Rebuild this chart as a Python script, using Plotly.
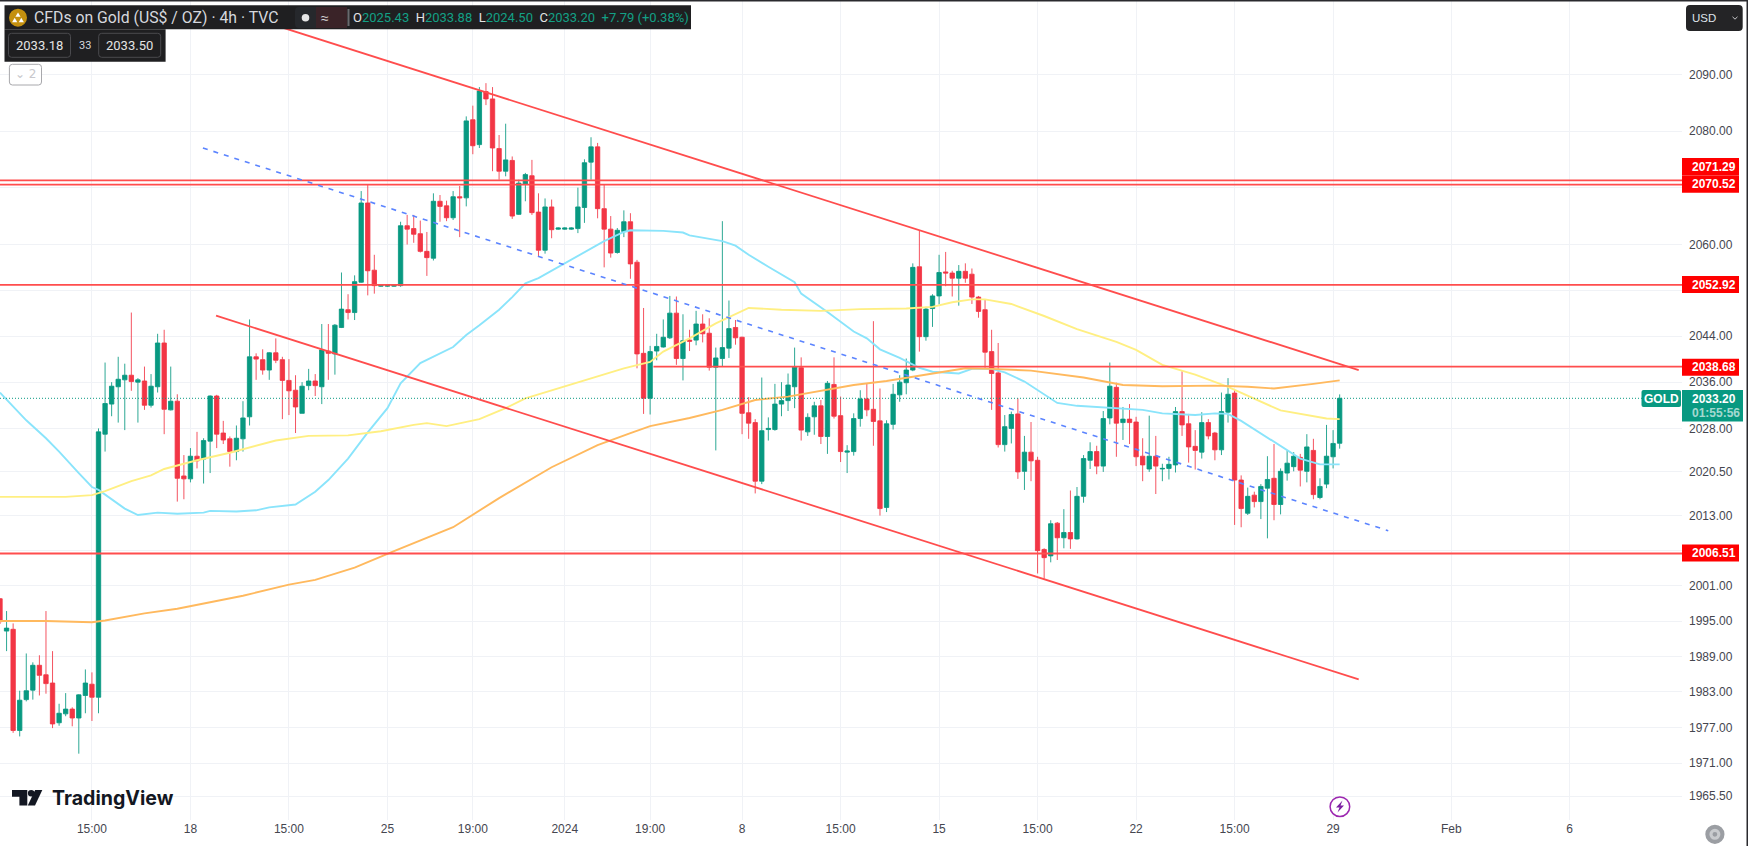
import math
import plotly.graph_objects as go

W, H = 1748, 846
PLOT_W, PLOT_H = 1682, 820

opens = [1998.8,1993.3,1993.6,1976.5,1981.7,1983.3,1987.5,1985.9,1984.5,1977.8,
1979.3,1980.1,1978.6,1982.4,1984.3,1982.1,2027.0,2032.2,2035.2,2036.4,
2037.2,2036.0,2036.2,2032.0,2035.2,2042.8,2031.2,2032.7,2019.8,2019.3,
2023.2,2022.7,2025.8,2033.6,2027.2,2026.2,2024.0,2026.2,2030.0,2040.4,
2039.9,2038.1,2041.1,2039.9,2036.3,2034.6,2030.6,2035.4,2036.2,2035.2,
2041.4,2040.9,2045.5,2048.6,2048.1,2053.4,2067.3,2055.5,2052.7,2052.7,
2052.7,2052.8,2063.3,2062.8,2061.9,2058.8,2057.6,2067.6,2066.8,2064.7,
2068.4,2068.2,2082.0,2077.6,2087.0,2085.7,2076.9,2072.9,2074.8,2065.3,
2070.6,2072.1,2065.7,2059.0,2066.6,2062.7,2062.7,2062.7,2062.8,2066.5,
2074.5,2077.2,2066.3,2062.7,2058.6,2062.3,2064.0,2056.9,2041.0,2033.2,
2041.4,2042.1,2043.7,2048.0,2040.1,2043.3,2043.3,2046.1,2044.5,2038.6,
2040.1,2041.9,2045.5,2043.8,2030.7,2029.0,2018.9,2027.8,2027.8,2032.2,
2032.8,2035.2,2038.5,2027.4,2030.0,2031.9,2026.6,2035.6,2030.2,2023.9,
2024.0,2029.7,2033.1,2031.3,2029.3,2014.4,2028.7,2033.8,2035.9,2038.1,
2056.1,2043.9,2048.8,2051.0,2055.2,2055.0,2054.1,2055.3,2054.8,2050.8,
2048.6,2041.3,2037.6,2025.2,2028.0,2030.5,2020.6,2023.9,2022.5,2007.2,
2006.1,2011.7,2009.2,2010.1,2009.0,2016.3,2022.5,2024.0,2021.5,2029.8,
2035.1,2029.0,2029.6,2029.1,2023.2,2021.0,2023.2,2021.0,2021.1,2021.7,
2030.9,2028.8,2024.9,2023.9,2029.0,2027.2,2024.3,2030.8,2034.1,2019.1,
2013.4,2016.5,2015.4,2017.7,2019.4,2014.9,2020.3,2021.4,2023.0,2020.6,
2024.2,2016.1,2018.4,2023.1,2025.43]

highs = [1998.9,1996.7,1994.6,1983.2,1989.5,1988.0,1989.2,1996.7,1989.9,1981.0,
1982.8,1980.4,1982.6,1986.8,1986.3,2028.0,2039.4,2036.0,2040.4,2039.2,
2048.1,2036.7,2038.7,2037.4,2044.4,2045.1,2038.7,2033.9,2023.4,2024.6,
2027.4,2026.3,2033.7,2033.8,2029.3,2026.6,2028.5,2032.7,2046.9,2041.0,
2041.7,2041.2,2043.6,2040.4,2040.0,2037.2,2036.0,2038.3,2037.4,2046.1,
2046.1,2046.1,2055.1,2051.3,2054.6,2069.4,2070.5,2058.2,2053.0,2053.0,
2053.0,2064.0,2065.2,2065.2,2064.2,2062.2,2069.0,2068.7,2067.7,2069.4,
2070.3,2082.6,2084.5,2087.8,2088.5,2087.8,2079.3,2081.3,2075.5,2071.4,
2072.6,2074.9,2069.0,2068.1,2067.9,2063.0,2063.0,2063.0,2070.0,2075.0,
2078.9,2077.9,2070.6,2065.0,2062.9,2066.0,2065.5,2057.3,2048.9,2042.3,
2044.4,2046.9,2051.0,2050.9,2047.8,2045.1,2048.4,2047.8,2047.1,2042.0,
2064.1,2050.2,2046.8,2043.9,2033.4,2029.6,2036.8,2029.9,2035.7,2036.0,
2037.5,2042.0,2040.3,2030.6,2032.6,2032.9,2036.2,2040.3,2033.5,2025.1,
2030.6,2034.6,2035.8,2046.6,2034.9,2029.4,2035.7,2037.2,2040.1,2056.7,
2062.4,2049.1,2051.3,2058.2,2058.7,2055.4,2056.4,2056.7,2055.8,2051.0,
2050.3,2045.1,2042.8,2030.3,2030.9,2033.2,2026.7,2029.1,2023.1,2007.4,
2012.2,2011.9,2014.1,2017.3,2017.9,2023.4,2025.6,2025.0,2031.0,2039.4,
2035.9,2031.7,2032.2,2030.0,2026.3,2030.2,2026.7,2021.9,2023.1,2031.7,
2037.9,2030.5,2027.7,2030.8,2029.6,2027.4,2034.2,2036.7,2034.8,2019.9,
2017.8,2017.1,2018.4,2023.2,2025.3,2021.1,2024.2,2023.9,2023.6,2027.0,
2026.2,2019.4,2028.6,2027.7,2033.88]

lows = [1994.5,1989.9,1976.1,1975.5,1981.4,1981.7,1982.4,1982.7,1976.9,1977.3,
1978.9,1977.2,1972.6,1979.4,1978.1,1979.4,2024.0,2030.1,2029.0,2027.7,
2034.5,2029.0,2031.2,2031.6,2034.2,2027.0,2031.1,2015.4,2015.8,2018.7,
2021.1,2018.5,2020.3,2024.6,2025.3,2021.4,2022.5,2024.0,2028.5,2036.4,
2037.3,2036.4,2039.3,2029.6,2030.3,2027.2,2030.6,2034.6,2033.6,2032.2,
2036.4,2037.3,2045.4,2046.9,2046.8,2053.3,2051.1,2051.4,2052.6,2052.6,
2052.6,2052.6,2060.0,2060.3,2058.6,2054.5,2057.2,2064.0,2064.1,2064.3,
2061.3,2066.7,2075.9,2077.0,2084.6,2072.9,2071.4,2072.0,2064.5,2065.2,
2067.6,2065.2,2057.9,2058.4,2061.1,2062.6,2062.6,2062.6,2062.0,2063.8,
2071.4,2064.6,2056.0,2057.7,2058.4,2061.3,2054.0,2038.4,2030.5,2030.4,
2039.8,2042.0,2043.5,2039.0,2036.3,2041.4,2042.4,2042.9,2038.0,2024.2,
2038.7,2040.2,2042.5,2027.0,2026.2,2016.8,2018.4,2025.9,2027.6,2030.1,
2031.0,2031.5,2025.9,2026.7,2026.9,2025.3,2023.6,2029.7,2022.2,2020.3,
2023.3,2028.3,2030.1,2025.0,2013.0,2013.6,2027.8,2032.6,2033.9,2037.9,
2041.3,2043.2,2045.6,2049.5,2052.7,2050.9,2049.3,2053.3,2049.6,2047.2,
2038.5,2031.2,2024.7,2024.0,2025.4,2019.3,2017.4,2018.9,2003.1,2002.2,
2005.0,2005.4,2007.4,2007.3,2008.9,2015.2,2021.0,2020.1,2020.5,2028.7,
2023.1,2026.0,2025.3,2021.5,2018.9,2020.5,2016.7,2018.9,2019.2,2020.4,
2026.7,2022.1,2020.9,2022.8,2026.1,2022.5,2023.4,2029.0,2011.4,2011.0,
2013.1,2014.4,2012.4,2009.1,2012.2,2013.2,2019.0,2020.6,2018.0,2018.7,
2015.8,2015.8,2017.7,2021.1,2024.50]

closes = [1994.9,1993.8,1976.5,1981.6,1983.2,1987.5,1985.8,1984.4,1977.6,1979.4,
1980.1,1978.6,1982.5,1984.5,1982.1,2027.4,2032.3,2035.3,2036.5,2037.2,
2036.1,2036.4,2032.0,2035.3,2042.8,2031.3,2032.7,2019.4,2019.3,2023.2,
2022.4,2025.9,2033.6,2027.0,2026.0,2024.0,2026.3,2029.8,2040.4,2040.0,
2038.1,2041.1,2039.8,2036.3,2034.5,2031.7,2035.3,2036.2,2035.4,2041.6,
2041.0,2045.9,2048.7,2048.1,2053.5,2067.3,2055.4,2052.8,2052.9,2052.9,
2052.9,2063.3,2062.7,2061.8,2058.8,2057.7,2067.6,2066.7,2064.7,2068.4,
2068.2,2081.8,2077.4,2087.1,2085.7,2077.0,2072.9,2074.9,2065.0,2070.8,
2072.3,2065.6,2059.0,2066.6,2062.6,2062.9,2062.9,2062.9,2066.6,2074.4,
2077.2,2066.3,2062.7,2058.5,2062.5,2064.0,2056.6,2040.9,2033.2,2041.3,
2042.2,2043.8,2048.0,2040.1,2043.2,2043.1,2046.1,2044.4,2038.6,2040.2,
2042.0,2045.3,2043.7,2030.6,2028.9,2018.9,2027.6,2028.0,2032.2,2032.8,
2035.5,2038.6,2027.7,2029.9,2031.9,2026.6,2035.8,2030.1,2024.0,2024.1,
2029.7,2033.1,2031.2,2029.2,2014.2,2028.8,2033.9,2036.0,2038.1,2056.0,
2043.9,2048.7,2051.0,2055.1,2055.0,2054.1,2055.3,2054.1,2050.8,2048.3,
2041.2,2037.5,2025.2,2028.3,2030.4,2020.5,2023.9,2022.4,2007.0,2005.8,
2011.6,2009.2,2010.1,2009.0,2016.3,2022.8,2024.0,2021.5,2029.7,2035.3,
2028.9,2029.6,2029.0,2023.1,2021.7,2023.2,2021.5,2021.1,2021.8,2030.9,
2028.6,2024.8,2024.2,2029.0,2026.7,2024.3,2030.9,2033.9,2019.1,2014.2,
2016.3,2015.4,2018.0,2019.2,2014.9,2020.6,2022.0,2023.2,2020.8,2024.8,
2016.6,2018.0,2023.2,2025.4,2033.20]

cyan_bar = [0,4,7,9,12,14,15,19,21,24,27,31,32,36,39,41,45,48,50,53,56,59,61,64,69,71,73,76,78,80,82,86,90,92,95,96,101,104,105,110,112,114,117,121,122,126,130,132,134,137,140,142,146,148,151,153,156,159,161,164,169,174,177,182,185,187,189,192,196,198,201,203,204]
cyan_val = [2034.2,2029.4,2026.3,2024.0,2020.3,2017.9,2017.4,2014.2,2013.1,2013.5,2013.3,2013.5,2013.8,2013.7,2013.9,2014.4,2014.9,2017.1,2019.1,2022.8,2027.3,2031.5,2035.8,2039.3,2042.1,2044.2,2045.9,2048.6,2050.8,2053.2,2054.1,2056.7,2059.4,2060.6,2062.2,2062.5,2062.4,2062.1,2061.6,2060.6,2059.8,2058.2,2056.1,2053.4,2051.4,2048.2,2044.8,2043.6,2041.7,2040.2,2038.5,2037.8,2037.5,2038.3,2038.3,2037.7,2036.1,2033.8,2032.4,2031.9,2031.6,2031.2,2030.6,2030.3,2030.6,2030.5,2029.3,2027.1,2024.3,2022.8,2021.8,2021.8,2021.8]

yellow_bar = [0,5,10,14,16,20,23,25,30,35,42,47,53,58,63,65,68,73,77,80,84,89,95,99,101,105,109,114,119,125,131,138,142,145,148,150,154,159,164,170,173,177,182,187,191,195,202,204]
yellow_val = [2016.2,2016.2,2016.2,2016.5,2017.2,2018.9,2019.9,2021.0,2022.5,2023.8,2025.9,2026.7,2026.8,2027.5,2028.6,2028.9,2028.4,2029.6,2031.5,2033.2,2034.6,2036.4,2038.4,2039.5,2041.3,2043.6,2046.2,2048.9,2048.6,2048.4,2048.7,2048.8,2049.1,2049.9,2050.4,2050.4,2049.6,2047.5,2045.2,2043.0,2041.6,2039.0,2037.3,2035.2,2033.2,2031.1,2029.7,2029.6]

orange_bar = [0,7,14,16,22,27,37,44,48,54,60,69,76,84,91,94,96,99,105,110,115,120,125,130,135,140,147,151,157,165,171,177,185,190,194,200,204]
orange_val = [1995.0,1995.0,1994.8,1995.1,1996.3,1997.1,1999.3,2001.2,2002.0,2004.1,2006.9,2011.0,2016.0,2021.3,2025.1,2026.4,2027.2,2028.4,2029.8,2031.2,2032.9,2033.5,2034.5,2035.5,2036.2,2037.1,2038.4,2038.3,2038.0,2036.8,2035.5,2035.3,2035.4,2035.2,2034.9,2035.7,2036.3]

level_prices = [2071.29, 2070.52, 2052.92, 2006.51]
pivot_price = 2038.68
pivot_start_bar = 99.5
last_price = 2033.20

upper_bars, upper_prices = [35.0, 206.9], [2101.4, 2038.1]
lower_bars, lower_prices = [32.9, 206.9], [2047.56, 1985.13]
mid_bars, mid_prices = [30.9, 211.4], [2077.0, 2010.4]

price_ticks = [2090,2080,2070,2060,2052,2044,2036,2028,2020.5,2013,2007,2001,1995,1989,1983,1977,1971,1965.5]
hidden_by_tags = [2070, 2052, 2007]
time_tick_bars = [14,29,44,59,72,86,99,113,128,143,158,173,188,203,221,239]
time_tick_text = ["15:00","18","15:00","25","19:00","2024","19:00","8","15:00","15","15:00","22","15:00","29","Feb","6"]

assert len(opens) == len(highs) == len(lows) == len(closes) == 205

GREEN, RED = "#089981", "#f23645"
LINE_RED = "#ff4d4d"
TAG_RED = "#ff0000"
DARK = "#1f1f21"
FONT = "Liberation Sans"
TXT = "#45464f"

X_MAX = 1682 / 6.567
Y_RANGE = [math.log10(1961.49), math.log10(2103.34)]
bars = list(range(len(opens)))


def px(x):
    return x / PLOT_W


def py(y):
    return 1 - y / PLOT_H


def rrect(x0, y0, x1, y1, r, fill, line=None, lw=1):
    d = (f"M{px(x0+r)},{py(y0)} L{px(x1-r)},{py(y0)} Q{px(x1)},{py(y0)} {px(x1)},{py(y0+r)} "
         f"L{px(x1)},{py(y1-r)} Q{px(x1)},{py(y1)} {px(x1-r)},{py(y1)} L{px(x0+r)},{py(y1)} "
         f"Q{px(x0)},{py(y1)} {px(x0)},{py(y1-r)} L{px(x0)},{py(y0+r)} Q{px(x0)},{py(y0)} {px(x0+r)},{py(y0)} Z")
    return dict(type="path", xref="paper", yref="paper", path=d, fillcolor=fill,
                line=dict(color=line or "rgba(0,0,0,0)", width=lw if line else 0), layer="above")


def rect(x0, y0, x1, y1, fill):
    return dict(type="rect", xref="paper", yref="paper", x0=px(x0), x1=px(x1), y0=py(y0), y1=py(y1),
                fillcolor=fill, line=dict(width=0), layer="above")


def poly(points, fill):
    d = "M" + " L".join(f"{px(a)},{py(b)}" for a, b in points) + " Z"
    return dict(type="path", xref="paper", yref="paper", path=d, fillcolor=fill, line=dict(width=0), layer="above")


def circle(cx, cy, r, fill, line=None, lw=0):
    return dict(type="circle", xref="paper", yref="paper", x0=px(cx-r), x1=px(cx+r), y0=py(cy-r), y1=py(cy+r),
                fillcolor=fill, line=dict(color=line or "rgba(0,0,0,0)", width=lw), layer="above")


def text(x, y, s, size=12, color="#ffffff", anchor="left", family=FONT):
    return dict(xref="paper", yref="paper", x=px(x), y=py(y), text=s, showarrow=False, xanchor=anchor,
                yanchor="middle", font=dict(size=size, color=color, family=family), align=anchor)


fig = go.Figure()

for bx, val, col in [(cyan_bar, cyan_val, "#8ae4fb"), (yellow_bar, yellow_val, "#ffef82"), (orange_bar, orange_val, "#ffb95e")]:
    fig.add_trace(go.Scatter(x=bx, y=val, mode="lines", line=dict(color=col, width=1.9), hoverinfo="skip", showlegend=False))

fig.add_trace(go.Scatter(x=[0, X_MAX], y=[last_price, last_price], mode="lines",
                         line=dict(color="#089981", width=1, dash="1px 2px"), hoverinfo="skip", showlegend=False))

fig.add_trace(go.Candlestick(
    x=bars, open=opens, high=highs, low=lows, close=closes, whiskerwidth=0, showlegend=False, hoverinfo="skip",
    increasing=dict(line=dict(color="rgba(8,153,129,0.85)", width=1), fillcolor=GREEN),
    decreasing=dict(line=dict(color="rgba(242,54,69,0.85)", width=1), fillcolor=RED)))

for p in level_prices:
    fig.add_trace(go.Scatter(x=[0, X_MAX], y=[p, p], mode="lines", line=dict(color=LINE_RED, width=1.8),
                             hoverinfo="skip", showlegend=False))
fig.add_trace(go.Scatter(x=[pivot_start_bar, X_MAX], y=[pivot_price, pivot_price], mode="lines",
                         line=dict(color=LINE_RED, width=1.8), hoverinfo="skip", showlegend=False))
for bx, pr in [(upper_bars, upper_prices), (lower_bars, lower_prices)]:
    fig.add_trace(go.Scatter(x=bx, y=pr, mode="lines", line=dict(color=LINE_RED, width=1.8), hoverinfo="skip", showlegend=False))
fig.add_trace(go.Scatter(x=mid_bars, y=mid_prices, mode="lines", line=dict(color="#5b84ff", width=1.6, dash="5px 6px"),
                         hoverinfo="skip", showlegend=False))

shapes, notes = [], []

# frame edges
shapes.append(rect(0, 0, W, 1.5, "#2a2a2e"))
shapes.append(rect(W-1.5, 0, W, H, "#2a2a2e"))

# header
shapes.append(rect(4.5, 5.3, 691, 29.3, DARK))
shapes.append(rect(4.5, 29.3, 165.6, 61.7, DARK))
shapes.append(rrect(8.5, 33.3, 70.5, 57.3, 3, "rgba(0,0,0,0)", "#4a4a4e", 1))
shapes.append(rrect(98.7, 33.3, 160.7, 57.3, 3, "rgba(0,0,0,0)", "#4a4a4e", 1))
shapes.append(circle(18, 17.7, 9, "#c4900f"))
shapes.append(poly([(18, 12.5), (20.6, 16.8), (15.4, 16.8)], "#ffffff"))
shapes.append(poly([(14.7, 17.8), (17.3, 22.2), (12.1, 22.2)], "#ffffff"))
shapes.append(poly([(21.3, 17.8), (23.9, 22.2), (18.7, 22.2)], "#ffffff"))
shapes.append(rrect(295, 7, 347, 28, 4, "#26282c"))
shapes.append(rect(316, 7, 347, 28, "#3a2328"))
shapes.append(circle(305.5, 17.7, 3.8, "#e6e6e6"))
shapes.append(rect(347.5, 9, 349.5, 26, "#6a6a6e"))
notes.append(text(32, 17.7, "CFDs on Gold (US$ / OZ) · 4h · TVC", 15.8, "#d6d8de", family="Roboto"))
notes.append(text(324.5, 17.5, "≈", 14, "#d8d8d8", "center"))
g = "#13a085"
ohlc = (f"<span style='color:#e4e4e4'>O</span><span style='color:{g}'>2025.43</span>  "
        f"<span style='color:#e4e4e4'>H</span><span style='color:{g}'>2033.88</span>  "
        f"<span style='color:#e4e4e4'>L</span><span style='color:{g}'>2024.50</span>  "
        f"<span style='color:#e4e4e4'>C</span><span style='color:{g}'>2033.20</span>  "
        f"<span style='color:{g}'>+7.79 (+0.38%)</span>")
notes.append(text(351, 17.7, ohlc, 13, g, family="Roboto"))
notes.append(text(39.5, 45.5, "2033.18", 13, "#e4e4e4", "center", "Roboto"))
notes.append(text(85, 45.5, "33", 11, "#d6d8de", "center", "Roboto"))
notes.append(text(129.7, 45.5, "2033.50", 13, "#e4e4e4", "center", "Roboto"))

shapes.append(rrect(9.4, 64.3, 41.5, 85, 3, "#ffffff", "#a8a8ac", 1))
notes.append(text(25.5, 74.5, "⌄ 2", 12, "#c8c8cc", "center", "DejaVu Sans"))

# USD button
shapes.append(rrect(1686, 5, 1742.7, 31, 4, "#242426"))
notes.append(text(1690, 18, "USD", 11.5, "#dfe3ea"))
shapes.append(dict(type="path", xref="paper", yref="paper",
                   path=f"M{px(1732.5)},{py(16.8)} L{px(1735)},{py(19.2)} L{px(1737.5)},{py(16.8)}",
                   line=dict(color="#c8c8cc", width=1), layer="above"))

# price tags
for top, bot, lab in [(158, 175.5, "2071.29"), (175.5, 192.7, "2070.52"), (276, 293, "2052.92"),
                      (358.7, 375.7, "2038.68"), (544.5, 561.5, "2006.51")]:
    shapes.append(rect(1682, top, 1739, bot, TAG_RED))
    notes.append(text(1690, (top + bot) / 2, f"<b>{lab}</b>", 12, "#ffffff"))
shapes.append(rrect(1641.5, 390, 1681, 407, 2, GREEN))
notes.append(text(1661, 398.8, "<b>GOLD</b>", 12, "#ffffff", "center"))
shapes.append(rect(1682, 390, 1743, 421.5, GREEN))
notes.append(text(1690, 399, "<b>2033.20</b>", 12, "#ffffff"))
notes.append(text(1690, 413, "<b>01:55:56</b>", 12, "rgba(255,255,255,0.65)"))

# TradingView logo
shapes.append(poly([(12, 790), (27.3, 790), (27.3, 805.5), (19.4, 805.5), (19.4, 796.8), (12, 796.8)], "#131722"))
shapes.append(circle(31.2, 793.3, 3.3, "#131722"))
shapes.append(poly([(42.3, 790), (35, 805.5), (27.8, 805.5), (35.1, 790)], "#131722"))
notes.append(text(50, 798, "<b>TradingView</b>", 19.6, "#131722", family="Inter"))

# bolt mark
shapes.append(circle(1339.9, 806.7, 9.8, "#ffffff", "#9c27b0", 1.5))
shapes.append(poly([(1342.5, 800.5), (1336, 807.5), (1339.5, 807.5), (1337.5, 812.5), (1344, 805.5), (1340.5, 805.5)], "#7b1fa2"))

# bottom right settings mark
shapes.append(circle(1714.9, 834.3, 9.6, "#9b9ea3"))
shapes.append(circle(1714.9, 834.3, 5.5, "#c9cbce"))
shapes.append(circle(1714.9, 834.3, 2.4, "#9b9ea3"))

fig.update_layout(
    width=W, height=H, autosize=False, margin=dict(l=0, r=W-PLOT_W, t=0, b=H-PLOT_H, autoexpand=False),
    paper_bgcolor="#ffffff", plot_bgcolor="#ffffff", showlegend=False, hovermode=False,
    shapes=shapes, annotations=notes, boxgap=0.05,
    xaxis=dict(range=[0, X_MAX], tickmode="array", tickvals=time_tick_bars, ticktext=time_tick_text,
               showgrid=True, gridcolor="#f0f2f6", gridwidth=1, zeroline=False, showline=False, ticks="",
               rangeslider=dict(visible=False), tickfont=dict(family=FONT, size=12, color=TXT), tickangle=0),
    yaxis=dict(type="log", range=Y_RANGE, side="right", tickmode="array", tickvals=price_ticks,
               ticktext=["" if p in hidden_by_tags else f"{p:.2f}" for p in price_ticks],
               showgrid=True, gridcolor="#f0f2f6", gridwidth=1,
               zeroline=False, showline=False, ticks="", ticklabelstandoff=6,
               tickfont=dict(family=FONT, size=12, color=TXT)),
)

fig.write_html("out.html", config=dict(displayModeBar=False),
               post_script="document.body.style.margin='0';document.body.style.overflow='hidden';")
